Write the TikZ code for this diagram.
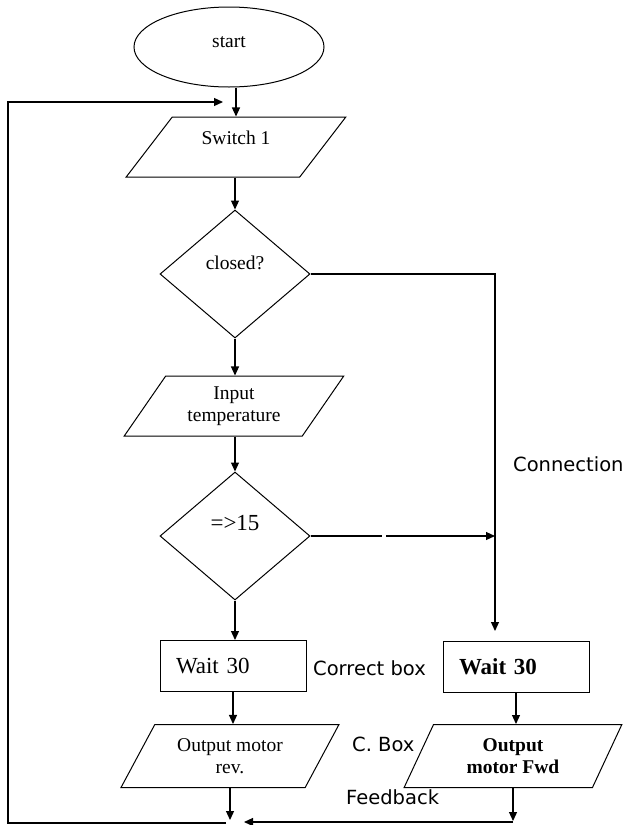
\documentclass[tikz,border=0pt]{standalone}
\usepackage{fontspec}
\setmainfont{Liberation Serif}
\newfontfamily\notefont{DejaVu Sans}
\usetikzlibrary{shapes.geometric,arrows.meta}

\tikzset{
  flow/.style={draw,line width=1pt,font=\fontsize{19.5}{22}\selectfont,align=center,inner sep=0pt},
  io/.style={flow,trapezium,trapezium stretches=true,minimum width=220pt,minimum height=60pt},
  decision/.style={flow,diamond,minimum width=150pt,minimum height=128pt},
  waitbox/.style={flow,rectangle,minimum width=146pt,minimum height=51pt,font=\fontsize{23}{26}\selectfont,text width=114pt,align=left,inner xsep=16pt},
  note/.style={font=\notefont\fontsize{19.5}{22}\selectfont,anchor=west,inner sep=0pt},
  link/.style={line width=1.2pt,-{Triangle[length=9pt,width=8pt]}}
}

\begin{document}
\begin{tikzpicture}[x=1pt,y=-1pt]
    \useasboundingbox (0,0) rectangle (629,825);
    \node[flow,ellipse,minimum width=190pt,minimum height=80pt,text height=12pt,text depth=12pt] (start) at (229,47) {start};
    \node[io,trapezium left angle=53,trapezium right angle=127,text height=14pt,text depth=19pt] (sw) at (236,147) {Switch 1};
    \node[decision,text height=14pt,text depth=23pt] (closed) at (235,274) {closed?};
    \node[io,trapezium left angle=54,trapezium right angle=126] (input) at (234,406) {Input\\temperature};
    \node[decision,font=\fontsize{23}{26}\selectfont,text height=16pt,text depth=28pt] (temp) at (235,536) {=>15};
    \node[waitbox] (waitL) at (233,666) {Wait 30};
    \node[waitbox,font=\bfseries\fontsize{23}{26}\selectfont] (waitR) at (516,667) {Wait 30};
    \node[io,minimum width=218pt,minimum height=63pt,trapezium left angle=56,trapezium right angle=124] (outL) at (230,756) {Output motor\\rev.};
    \node[io,minimum width=218pt,minimum height=63pt,trapezium left angle=64,trapezium right angle=116,font=\bfseries\fontsize{19.5}{22}\selectfont] (outR) at (513,756) {Output\\motor Fwd};

    \node[note] (connlbl) at (513,464) {Connection};
    \node[note] (corrlbl) at (313,668) {Correct box};
    \node[note] (cboxlbl) at (352,744) {C. Box};
    \node[note] (fblbl) at (346,797) {Feedback};

    \coordinate (swin) at (223,102);
    \coordinate (loopL) at (8,823);
    \coordinate (joinR) at (495,631);
    \coordinate (gapA) at (382,536);
    \coordinate (gapB) at (386,536);
    \coordinate (dropL) at (229,820);
    \coordinate (dropR) at (512,821);
    \coordinate (meet) at (244,822);
    \coordinate (endL) at (226,823);

    \draw[link] (sw.north |- start.south) -- (sw.north);
    \draw[link] (sw.south -| closed.north) -- (closed.north);
    \draw[link] (closed.south) -- (closed.south |- input.north);
    \draw[link] (input.south -| temp.north) -- (temp.north);
    \draw[link] (temp.south) -- (temp.south |- waitL.north);
    \draw[link] (waitL.south) -- (waitL.south |- outL.north);
    \draw[link] (waitR.south) -- (waitR.south |- outR.north);
    \draw[link] (closed.east) -| (joinR);
    \draw[line width=1.2pt] (temp.east) -- (gapA);
    \draw[link] (gapB) -- (temp.east -| joinR);
    \draw[link] (outL.south) -- (outL.south |- dropL);
    \draw[link] (outR.south) -- (outR.south |- dropR);
    \draw[link] (outR.south |- meet) -- (meet);
    \draw[link] (endL) -- (loopL) |- (swin);
\end{tikzpicture}
\end{document}
